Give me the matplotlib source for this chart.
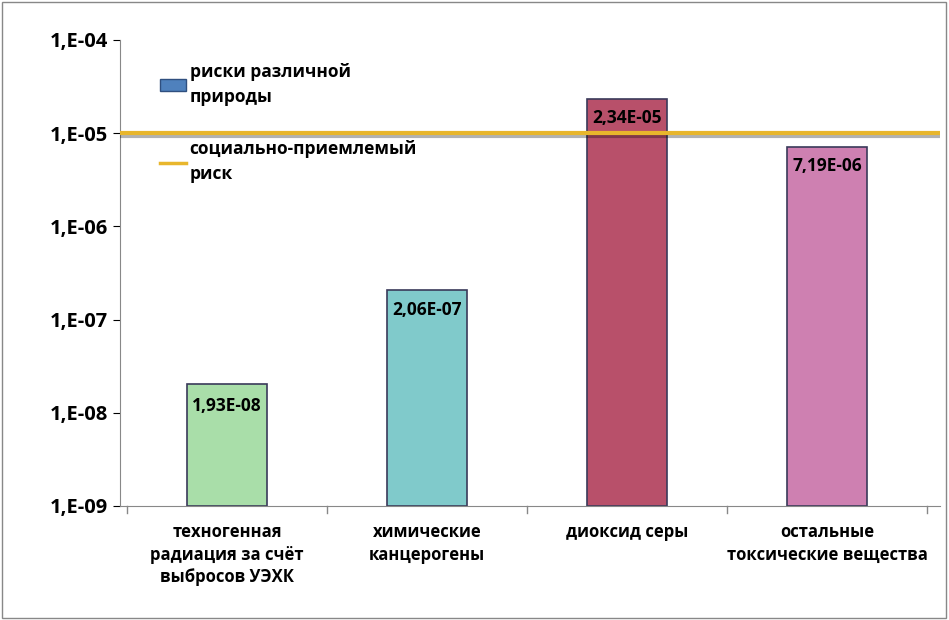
import matplotlib
matplotlib.use("Agg")
import matplotlib.pyplot as plt
from matplotlib.patches import Patch
from matplotlib.lines import Line2D
import matplotlib.patheffects as pe

categories = ["техногенная\nрадиация за счёт\nвыбросов УЭХК", "химические\nканцерогены",
              "диоксид серы", "остальные\nтоксические вещества"]
values = [1.93e-8, 2.06e-7, 2.34e-5, 7.19e-6]
value_labels = ["1,93E-08", "2,06E-07", "2,34E-05", "7,19E-06"]
colors = ["#A9DEA9", "#80CACB", "#B8506A", "#CE80B1"]
accept_risk = 1e-5
yticks = [1e-9, 1e-8, 1e-7, 1e-6, 1e-5, 1e-4]
ytick_labels = ["1,E-09", "1,E-08", "1,E-07", "1,E-06", "1,E-05", "1,E-04"]

plt.rcParams["font.family"] = "Open Sans"
plt.rcParams["font.weight"] = "bold"
fig = plt.figure(figsize=(9.49, 6.2), dpi=100)
ax = fig.add_axes([120/949, 114/620, 820/949, 466/620])
ax.set_yscale("log")
ax.set_ylim(1e-9, 1e-4)
x = list(range(len(categories)))
ax.bar(x, values, width=0.4, color=colors, edgecolor="#3A3A5A", linewidth=1.2, bottom=1e-9, zorder=2)
ax.set_xlim(-0.535, 3.565)
for xi, v, lab in zip(x, values, value_labels):
    ax.text(xi, v / 1.3, lab, ha="center", va="top", fontsize=12.5, fontweight="bold", zorder=4)
ax.axhline(accept_risk, color="#E8B62C", lw=3, zorder=3,
           path_effects=[pe.SimpleLineShadow(offset=(1, -2), alpha=0.3), pe.Normal()])
ax.set_yticks(yticks)
ax.set_yticklabels(ytick_labels, fontsize=14.5, fontweight="bold")
ax.minorticks_off()
ax.set_xticks(x)
ax.set_xticklabels(categories, fontsize=12, fontweight="bold", linespacing=1.35)
ax.tick_params(axis="x", length=0, pad=12)
ax.tick_params(axis="y", length=5, direction="out")
for xb in [-0.5, 0.5, 1.5, 2.5, 3.5]:
    ax.plot([xb, xb], [1e-9, 1e-9 / 1.2], color="#888888", lw=1, clip_on=False)
for s in ["top", "right"]:
    ax.spines[s].set_visible(False)
ax.spines["left"].set_color("#888888")
ax.spines["bottom"].set_color("#888888")
handles = [Patch(facecolor="#4F81BD", edgecolor="#2F4F7F"),
           Line2D([0], [0], color="#E8B62C", lw=2.5)]
ax.legend(handles, ["риски различной\nприроды", "социально-приемлемый\nриск"],
          loc="upper left", bbox_to_anchor=(0.03, 0.985), frameon=False,
          handlelength=1.5, labelspacing=2.0, handletextpad=0.2,
          prop={"weight": "bold", "size": 12.5})
for t in ax.get_legend().get_texts():
    t.set_linespacing(1.5)
fig.patches.append(plt.Rectangle((0.002, 0.003), 0.995, 0.994, transform=fig.transFigure,
                                 fill=False, edgecolor="#888888", lw=1))
fig.savefig("out.png", dpi=100, facecolor="white")
